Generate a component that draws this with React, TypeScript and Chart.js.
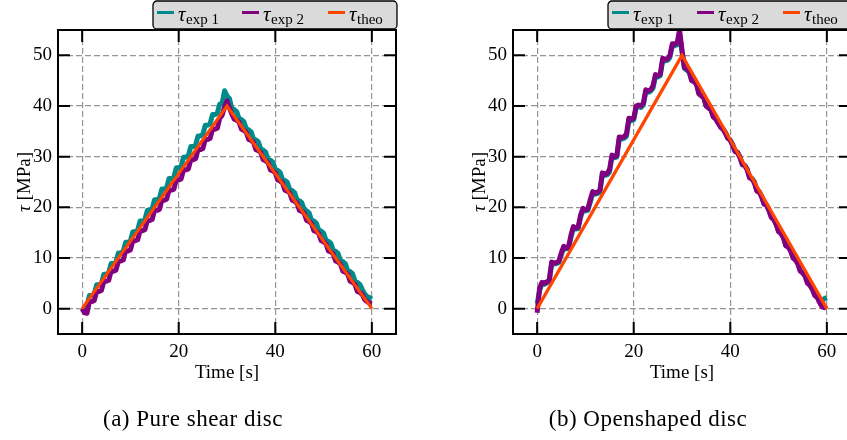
import React, { useEffect, useRef } from "react";
import { Chart, registerables } from "chart.js";

Chart.register(...registerables);

// ---- data ----
const TIME = Array.from({ length: 121 }, (_, i) => i * 0.5); // sampling grid, 0..60 s
const THEO_TIME = [0, 30, 60];
const A_THEO = [0, 40, 0];
const B_THEO = [0, 50, 0];

const A_EXP1 = [
  0, -0.6, 0.6,
  2.6, 2.6, 2.9, 4.7, 4.7, 5.0, 6.8, 6.8, 7.1, 8.9, 8.9, 9.2, 11.0, 11.0, 11.3,
  13.1, 13.1, 13.4, 15.2, 15.2, 15.5, 17.3, 17.3, 17.6, 19.4, 19.4, 19.7, 21.5, 21.5, 21.8,
  23.6, 23.6, 23.9, 25.7, 25.7, 26.0, 27.8, 27.8, 28.1, 29.9, 29.9, 30.2, 32.0, 32.0, 32.3,
  34.1, 34.1, 34.4, 36.2, 36.2, 36.5, 38.3, 38.3, 38.6, 40.4, 40.6, 43.0,
  42.0,
  41.5,
  39.5, 39.3, 38.9, 37.5, 37.3, 36.9, 35.5, 35.3, 34.9, 33.5, 33.3, 32.9, 31.5, 31.3, 30.9,
  29.5, 29.3, 28.9, 27.5, 27.3, 26.9, 25.5, 25.3, 24.9, 23.5, 23.3, 22.9, 21.5, 21.3, 20.9,
  19.5, 19.3, 18.9, 17.5, 17.3, 16.9, 15.5, 15.3, 14.9, 13.5, 13.3, 12.9, 11.5, 11.3, 10.9,
  9.5, 9.3, 8.9, 7.5, 7.3, 6.9, 5.5, 5.2, 4.8,
  3.8, 2.9, 2.4, 2.2, 1.9,
];

const A_EXP2 = [
  0, -0.8, -0.9,
  1.4, 1.4, 1.6, 3.4, 3.4, 3.6, 5.4, 5.4, 5.6, 7.4, 7.4, 7.6, 9.4, 9.4, 9.6,
  11.4, 11.4, 11.6, 13.4, 13.4, 13.6, 15.4, 15.4, 15.6, 17.4, 17.4, 17.6, 19.4, 19.4, 19.6,
  21.4, 21.4, 21.6, 23.4, 23.4, 23.6, 25.4, 25.4, 25.6, 27.4, 27.4, 27.6, 29.4, 29.4, 29.6,
  31.4, 31.4, 31.6, 33.4, 33.4, 33.6, 35.4, 35.4, 35.6, 37.6, 38.2, 39.8,
  41.0,
  39.6, 38.4,
  37.4, 37.2, 36.8, 35.4, 35.2, 34.8, 33.4, 33.2, 32.8, 31.4, 31.2, 30.8, 29.4, 29.2, 28.8,
  27.4, 27.2, 26.8, 25.4, 25.2, 24.8, 23.4, 23.2, 22.8, 21.4, 21.2, 20.8, 19.4, 19.2, 18.8,
  17.4, 17.2, 16.8, 15.4, 15.2, 14.8, 13.4, 13.2, 12.8, 11.4, 11.2, 10.8, 9.4, 9.2, 8.8,
  7.4, 7.2, 6.8, 5.4, 5.2, 4.8, 3.4, 3.2, 2.8,
  1.8, 1.4, 1.1, 1.0,
];

const B_EXP1 = [
  1.0, 3.5, 5.0, 4.8, 5.1, 5.3, 8.8, 8.8, 8.9, 9.1, 10.6, 12.0, 11.8, 11.9,
  14.0, 15.9, 15.7, 15.8, 18.0, 19.5, 19.3, 19.4, 21.0, 22.8, 22.6, 22.7, 23.0,
  26.4, 26.3, 26.4, 27.0, 30.0, 29.8, 29.9, 33.4, 33.5, 33.6, 34.0, 37.2, 37.1, 37.3,
  39.6, 39.9, 39.7, 40.2, 42.8, 42.7, 42.9, 43.5, 45.8, 45.7, 46.0, 49.0, 48.9, 49.0, 49.6,
  51.9, 51.9, 52.1, 54.0, 50.8,
  47.4, 47.1, 46.6, 45.1, 44.9, 44.4, 42.5, 42.1, 41.7, 40.1, 39.7, 39.3, 37.9, 37.5, 36.8,
  35.9, 35.5, 34.8, 33.7, 33.3, 32.4, 31.1, 30.9, 30.0, 28.5, 28.3, 27.6, 25.9, 25.7, 25.0,
  23.3, 23.1, 22.2, 20.7, 20.5, 19.6, 18.1, 17.7, 16.8, 15.3, 14.9, 14.2, 12.5, 12.3, 11.6,
  10.1, 9.7, 9.0, 7.5, 7.1, 6.6, 5.1, 4.7, 4.0, 2.8, 2.4, 1.6, 1.5, 2.0, 2.2,
];

const B_EXP2 = [
  -0.8, 4.0, 5.2, 5.0, 5.3, 5.6, 9.2, 9.0, 9.1, 9.4, 11.0, 12.3, 12.0, 12.2,
  14.5, 16.2, 15.9, 16.1, 18.5, 19.8, 19.5, 19.7, 21.5, 23.1, 22.8, 23.0, 23.4,
  26.8, 26.5, 26.7, 27.5, 30.3, 30.0, 30.2, 33.9, 33.8, 33.9, 34.5, 37.6, 37.4, 37.6,
  40.0, 40.2, 40.0, 40.6, 43.2, 43.0, 43.2, 44.0, 46.2, 46.0, 46.3, 49.4, 49.2, 49.3, 50.0,
  52.3, 52.2, 52.5, 55.0, 51.0,
  47.6, 47.3, 46.8, 45.0, 44.8, 44.3, 42.4, 42.0, 41.6, 40.0, 39.6, 39.2, 37.8, 37.4, 36.6,
  35.8, 35.4, 34.6, 33.6, 33.2, 32.2, 31.0, 30.8, 29.8, 28.4, 28.2, 27.4, 25.8, 25.6, 24.8,
  23.2, 23.0, 22.0, 20.6, 20.4, 19.4, 18.0, 17.6, 16.6, 15.2, 14.8, 14.0, 12.4, 12.2, 11.4,
  10.0, 9.6, 8.8, 7.4, 7.0, 6.4, 5.0, 4.6, 3.8, 2.6, 2.2, 1.2, 0.4, 0.2, 0.6,
];

const X_TICKS = [0, 20, 40, 60];
const Y_TICKS = [0, 10, 20, 30, 40, 50];
const X_RANGE = [-5, 65];
const Y_RANGE = [-5, 55];
const LEGEND_SUBS = ["exp 1", "exp 2", "theo"];
const LEGEND_SYMBOL = "τ";
const CAPTIONS = ["(a) Pure shear disc", "(b) Openshaped disc"];
const X_TITLE = "Time [s]";
const Y_TITLE_SYMBOL = "τ";
const Y_TITLE_UNIT = " [MPa]";
const COLORS = ["#008b8b", "#800080", "#ff4500"];

// ---- layout ----
const CW = 455;
const CH = 440;
const AREA = { left: 58, right: 396, top: 30, bottom: 334 };
const FONT = "'Liberation Serif', 'Times New Roman', serif";

function makeDecor(caption: string) {
  return {
    id: "decor",
    afterDraw(chart: any) {
      const ctx: CanvasRenderingContext2D = chart.ctx;
      const { left, right, top, bottom } = chart.chartArea;
      const xs = chart.scales.x;
      const ys = chart.scales.y;
      ctx.save();
      // frame
      ctx.strokeStyle = "#000";
      ctx.lineWidth = 2;
      ctx.setLineDash([]);
      ctx.strokeRect(left, top, right - left, bottom - top);
      // inward ticks
      const tl = 12;
      ctx.lineWidth = 2;
      ctx.beginPath();
      X_TICKS.forEach((v) => {
        const px = xs.getPixelForValue(v);
        ctx.moveTo(px, bottom);
        ctx.lineTo(px, bottom - tl);
        ctx.moveTo(px, top);
        ctx.lineTo(px, top + tl);
      });
      Y_TICKS.forEach((v) => {
        const py = ys.getPixelForValue(v);
        ctx.moveTo(left, py);
        ctx.lineTo(left + tl, py);
        ctx.moveTo(right, py);
        ctx.lineTo(right - tl, py);
      });
      ctx.stroke();

      // legend
      const boxW = 243;
      const bl = right - boxW;
      const bt = 1;
      const bb = top - 1;
      ctx.beginPath();
      (ctx as any).roundRect(bl, bt, boxW + 1, bb - bt, 4);
      ctx.fillStyle = "#dadada";
      ctx.fill();
      ctx.lineWidth = 1.3;
      ctx.strokeStyle = "#000";
      ctx.stroke();
      const offs = [4, 89, 175];
      chart.data.datasets.forEach((ds: any, i: number) => {
        const sx = bl + offs[i];
        ctx.beginPath();
        ctx.strokeStyle = ds.borderColor;
        ctx.lineWidth = 3;
        ctx.moveTo(sx, 12.5);
        ctx.lineTo(sx + 17, 12.5);
        ctx.stroke();
        ctx.fillStyle = "#000";
        ctx.textAlign = "left";
        ctx.textBaseline = "alphabetic";
        ctx.font = `italic 21px ${FONT}`;
        const tx = sx + 21;
        ctx.fillText(LEGEND_SYMBOL, tx, 20.5);
        const tw = ctx.measureText(LEGEND_SYMBOL).width;
        ctx.font = `15px ${FONT}`;
        ctx.fillText(LEGEND_SUBS[i], tx + tw + 0.5, 24);
      });

      // x title
      ctx.fillStyle = "#000";
      ctx.font = `19px ${FONT}`;
      ctx.textAlign = "center";
      ctx.textBaseline = "alphabetic";
      ctx.fillText(X_TITLE, (left + right) / 2, 378);

      // y title (rotated)
      ctx.save();
      ctx.translate(30, (top + bottom) / 2);
      ctx.rotate(-Math.PI / 2);
      ctx.font = `italic 19px ${FONT}`;
      const w1 = ctx.measureText(Y_TITLE_SYMBOL).width;
      ctx.font = `19px ${FONT}`;
      const w2 = ctx.measureText(Y_TITLE_UNIT).width;
      const start = -(w1 + w2) / 2;
      ctx.textAlign = "left";
      ctx.font = `italic 19px ${FONT}`;
      ctx.fillText(Y_TITLE_SYMBOL, start, 0);
      ctx.font = `19px ${FONT}`;
      ctx.fillText(Y_TITLE_UNIT, start + w1, 0);
      ctx.restore();

      // caption
      ctx.font = `23px ${FONT}`;
      (ctx as any).letterSpacing = "0.5px";
      ctx.textAlign = "center";
      ctx.fillText(caption, 193, 426);
      ctx.restore();
    },
  };
}

function buildChart(canvas: HTMLCanvasElement, exp1: number[], exp2: number[], theo: number[], caption: string) {
  return new Chart(canvas, {
    type: "line",
    data: {
      datasets: [
        {
          label: LEGEND_SUBS[0],
          data: TIME.map((t, i) => ({ x: t, y: exp1[i] })),
          borderColor: COLORS[0],
          backgroundColor: COLORS[0],
          borderWidth: 5,
          pointRadius: 0,
          order: 3,
          borderJoinStyle: "round",
        },
        {
          label: LEGEND_SUBS[1],
          data: TIME.map((t, i) => ({ x: t, y: exp2[i] })),
          borderColor: COLORS[1],
          backgroundColor: COLORS[1],
          borderWidth: 5,
          pointRadius: 0,
          order: 2,
          borderJoinStyle: "round",
        },
        {
          label: LEGEND_SUBS[2],
          data: THEO_TIME.map((t, i) => ({ x: t, y: theo[i] })),
          borderColor: COLORS[2],
          backgroundColor: COLORS[2],
          borderWidth: 3.2,
          pointRadius: 0,
          order: 1,
        },
      ],
    } as any,
    options: {
      responsive: false,
      animation: false,
      events: [],
      layout: { padding: { left: 0, top: AREA.top, right: CW - AREA.right, bottom: 0 } },
      plugins: { legend: { display: false }, tooltip: { enabled: false } },
      scales: {
        x: {
          type: "linear",
          min: X_RANGE[0],
          max: X_RANGE[1],
          afterFit: (s: any) => {
            s.height = CH - AREA.bottom;
          },
          afterBuildTicks: (s: any) => {
            s.ticks = X_TICKS.map((v) => ({ value: v }));
          },
          grid: { color: "#959595", lineWidth: 1.2, drawTicks: false },
          border: { display: false, dash: [6, 3] },
          ticks: {
            color: "#000",
            font: { family: FONT, size: 19 },
            padding: 7,
            maxRotation: 0,
            callback: (v: any) => String(v),
          },
        },
        y: {
          type: "linear",
          min: Y_RANGE[0],
          max: Y_RANGE[1],
          afterFit: (s: any) => {
            s.width = AREA.left;
          },
          afterBuildTicks: (s: any) => {
            s.ticks = Y_TICKS.map((v) => ({ value: v }));
          },
          grid: { color: "#959595", lineWidth: 1.2, drawTicks: false },
          border: { display: false, dash: [6, 3] },
          ticks: {
            color: "#000",
            font: { family: FONT, size: 19 },
            padding: 6,
            callback: (v: any) => String(v),
          },
        },
      },
    } as any,
    plugins: [makeDecor(caption)],
  });
}

export default function App() {
  const refA = useRef<HTMLCanvasElement>(null);
  const refB = useRef<HTMLCanvasElement>(null);
  useEffect(() => {
    const a = buildChart(refA.current!, A_EXP1, A_EXP2, A_THEO, CAPTIONS[0]);
    const b = buildChart(refB.current!, B_EXP1, B_EXP2, B_THEO, CAPTIONS[1]);
    return () => {
      a.destroy();
      b.destroy();
    };
  }, []);
  return (
    <div
      style={{
        position: "absolute",
        left: 0,
        top: 0,
        width: 847,
        height: 440,
        overflow: "hidden",
        background: "#fff",
      }}
    >
      <canvas
        ref={refA}
        width={CW}
        height={CH}
        style={{ position: "absolute", left: 0, top: 0, width: CW, height: CH }}
      />
      <canvas
        ref={refB}
        width={CW}
        height={CH}
        style={{ position: "absolute", left: 455, top: 0, width: CW, height: CH }}
      />
    </div>
  );
}
